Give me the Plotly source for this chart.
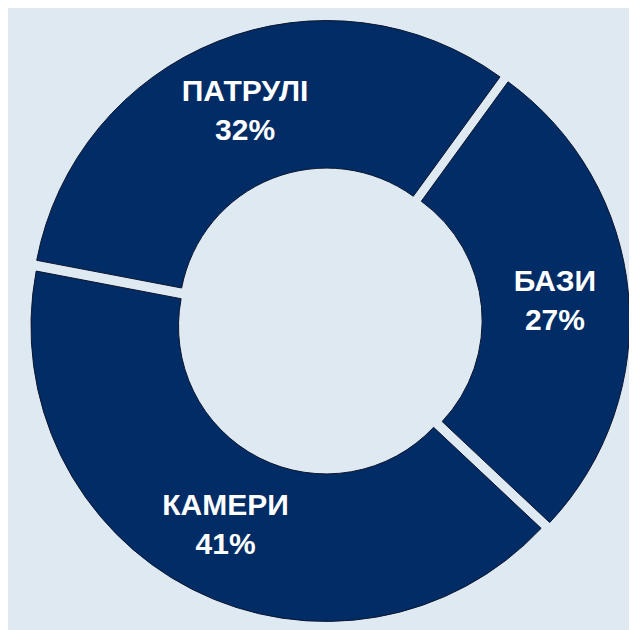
import plotly.graph_objects as go

labels = ["БАЗИ", "КАМЕРИ", "ПАТРУЛІ"]
values = [27, 41, 32]
text_labels = ["БАЗИ<br>27%", "КАМЕРИ<br>41%", "ПАТРУЛІ<br>32%"]

bg = "#dfe9f2"
navy = "#022c65"

fig = go.Figure(go.Pie(
    labels=labels,
    values=values,
    text=text_labels,
    textinfo="text",
    textposition="inside",
    insidetextorientation="horizontal",
    hole=0.5,
    sort=False,
    direction="clockwise",
    rotation=36,
    pull=[0.02, 0.02, 0.02],
    marker=dict(colors=[navy, navy, navy], line=dict(color="#0b1630", width=1)),
    textfont=dict(family="Liberation Sans, Arial, sans-serif", size=30, color="white", weight="bold"),
    domain=dict(x=[0.031, 0.976], y=[0.025, 0.981]),
    hoverinfo="skip",
))

fig.update_layout(
    width=637, height=630,
    margin=dict(l=0, r=0, t=0, b=0),
    paper_bgcolor=bg,
    plot_bgcolor=bg,
    showlegend=False,
)

fig.write_html("out.html")
